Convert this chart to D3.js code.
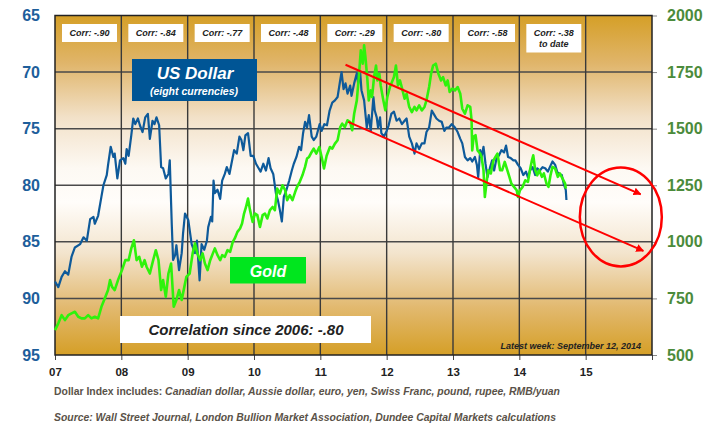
<!DOCTYPE html>
<html>
<head>
<meta charset="utf-8">
<script src="https://cdn.jsdelivr.net/npm/d3@7"></script>
<style>
  body { margin: 0; background: #fff; }
  svg { display: block; font-family: "Liberation Sans", Arial, sans-serif; }
</style>
</head>
<body>
<div id="chart"></div>
<script>
// US Dollar index (eight currencies) - [year, index], left axis inverted
const usdIndex = [
  [2007.00,88.5],[2007.05,89.0],[2007.10,88.1],[2007.15,87.6],[2007.20,87.9],[2007.25,86.3],[2007.30,85.5],[2007.38,85.2],[2007.43,84.6],[2007.48,84.9],[2007.53,83.0],[2007.58,82.8],[2007.60,83.4],[2007.65,82.7],[2007.70,81.0],[2007.73,80.0],[2007.78,79.1],[2007.80,78.2],[2007.84,76.6],[2007.88,77.5],[2007.90,77.2],[2007.94,79.4],[2007.98,77.8],
  [2008.03,77.6],[2008.06,78.1],[2008.08,76.8],[2008.11,77.4],[2008.15,75.6],[2008.18,74.1],[2008.21,74.6],[2008.25,74.1],[2008.28,74.7],[2008.32,75.3],[2008.36,74.0],[2008.40,73.7],[2008.43,75.9],[2008.47,74.3],[2008.50,74.6],[2008.53,74.0],[2008.57,74.7],[2008.60,78.4],[2008.63,78.5],[2008.67,79.4],[2008.71,79.0],[2008.73,77.8],[2008.76,83.4],[2008.78,86.6],[2008.81,86.2],[2008.83,85.3],[2008.87,87.5],[2008.91,86.0],[2008.93,84.3],[2008.96,82.5],
  [2009.01,83.1],[2009.06,85.2],[2009.11,86.0],[2009.14,84.9],[2009.18,88.4],[2009.21,85.2],[2009.25,85.7],[2009.29,84.9],[2009.31,83.7],[2009.35,82.8],[2009.37,83.2],[2009.39,79.6],[2009.41,80.7],[2009.45,80.4],[2009.49,81.2],[2009.52,79.6],[2009.56,79.0],[2009.59,78.4],[2009.63,79.0],[2009.66,78.1],[2009.70,76.9],[2009.74,77.2],[2009.78,75.7],[2009.81,76.0],[2009.84,76.9],[2009.87,75.6],[2009.91,75.4],[2009.95,77.4],[2009.99,77.4],
  [2010.03,78.1],[2010.07,78.5],[2010.10,78.8],[2010.14,78.1],[2010.18,78.7],[2010.22,77.6],[2010.25,78.5],[2010.29,79.0],[2010.33,80.7],[2010.36,81.3],[2010.39,82.2],[2010.42,83.2],[2010.45,81.0],[2010.49,80.4],[2010.53,79.6],[2010.57,78.7],[2010.60,78.1],[2010.64,77.5],[2010.68,76.6],[2010.71,76.9],[2010.74,75.4],[2010.77,74.4],[2010.80,74.9],[2010.83,73.8],[2010.87,75.7],[2010.90,76.0],[2010.94,75.7],[2010.99,74.6],
  [2011.02,75.2],[2011.06,74.6],[2011.10,74.7],[2011.14,73.4],[2011.18,72.7],[2011.22,72.5],[2011.26,72.2],[2011.30,70.7],[2011.32,70.0],[2011.35,71.5],[2011.38,71.0],[2011.41,71.9],[2011.45,71.2],[2011.47,72.1],[2011.51,71.0],[2011.55,70.1],[2011.57,71.0],[2011.60,70.0],[2011.62,71.6],[2011.66,72.5],[2011.70,74.9],[2011.73,73.8],[2011.76,75.2],[2011.80,72.2],[2011.82,73.4],[2011.85,74.0],[2011.87,74.9],[2011.90,74.0],[2011.92,75.4],[2011.96,75.7],
  [2012.00,75.2],[2012.03,74.7],[2012.07,73.7],[2012.11,73.5],[2012.15,74.3],[2012.19,74.1],[2012.23,74.6],[2012.27,74.3],[2012.30,74.1],[2012.34,75.7],[2012.38,76.3],[2012.42,77.2],[2012.45,76.3],[2012.49,76.8],[2012.53,76.3],[2012.57,76.3],[2012.60,75.3],[2012.64,74.9],[2012.68,73.4],[2012.72,73.8],[2012.75,74.1],[2012.79,74.3],[2012.83,74.4],[2012.87,75.2],[2012.90,74.9],[2012.94,74.9],[2012.98,74.6],
  [2013.03,74.9],[2013.07,75.3],[2013.11,75.9],[2013.14,76.3],[2013.18,77.5],[2013.22,77.8],[2013.26,77.6],[2013.29,77.9],[2013.33,77.5],[2013.36,78.2],[2013.38,79.3],[2013.41,76.9],[2013.43,77.5],[2013.46,76.6],[2013.49,78.1],[2013.52,79.3],[2013.56,78.4],[2013.59,77.8],[2013.62,78.7],[2013.66,77.5],[2013.69,77.4],[2013.73,76.9],[2013.77,77.1],[2013.80,76.5],[2013.83,77.5],[2013.87,77.6],[2013.91,77.8],[2013.94,77.8],[2013.98,78.2],
  [2014.02,78.5],[2014.06,79.1],[2014.10,78.8],[2014.13,79.3],[2014.16,78.7],[2014.20,78.4],[2014.24,79.1],[2014.27,78.5],[2014.31,78.7],[2014.35,78.4],[2014.39,78.5],[2014.43,78.8],[2014.46,78.4],[2014.50,77.9],[2014.54,78.2],[2014.57,78.8],[2014.60,79.0],[2014.64,79.1],[2014.67,79.9],[2014.70,80.4],[2014.71,81.3]
];

// Gold price, US$/oz - [year, price], right axis
const goldPrice = [
  [2007.00,610],[2007.05,640],[2007.10,676],[2007.15,654],[2007.20,676],[2007.25,684],[2007.30,691],[2007.35,669],[2007.40,662],[2007.45,662],[2007.50,676],[2007.55,662],[2007.60,669],[2007.65,662],[2007.70,713],[2007.75,750],[2007.80,787],[2007.83,831],[2007.86,801],[2007.90,787],[2007.95,831],
  [2008.01,875],[2008.06,919],[2008.11,919],[2008.15,971],[2008.19,1007],[2008.23,919],[2008.27,934],[2008.31,890],[2008.35,919],[2008.38,890],[2008.43,860],[2008.48,919],[2008.52,963],[2008.56,919],[2008.60,787],[2008.63,831],[2008.67,757],[2008.71,860],[2008.75,904],[2008.79,713],[2008.83,743],[2008.87,787],[2008.91,743],[2008.95,801],[2008.98,845],
  [2009.03,860],[2009.075,949],[2009.11,993],[2009.145,949],[2009.19,919],[2009.225,949],[2009.26,904],[2009.30,875],[2009.34,919],[2009.38,949],[2009.41,971],[2009.45,941],[2009.49,919],[2009.52,941],[2009.56,934],[2009.60,963],[2009.64,956],[2009.68,1000],[2009.71,1015],[2009.75,1044],[2009.79,1059],[2009.82,1081],[2009.85,1125],[2009.88,1154],[2009.91,1191],[2009.94,1140],[2009.98,1088],
  [2010.015,1125],[2010.05,1118],[2010.09,1066],[2010.13,1118],[2010.165,1125],[2010.20,1103],[2010.24,1140],[2010.28,1154],[2010.315,1140],[2010.35,1235],[2010.39,1213],[2010.43,1250],[2010.47,1228],[2010.50,1184],[2010.54,1206],[2010.58,1184],[2010.62,1220],[2010.65,1243],[2010.69,1265],[2010.73,1294],[2010.77,1331],[2010.80,1368],[2010.83,1375],[2010.87,1397],[2010.90,1412],[2010.94,1390],[2010.985,1419],
  [2011.02,1375],[2011.055,1324],[2011.095,1380],[2011.145,1419],[2011.18,1412],[2011.22,1434],[2011.26,1449],[2011.30,1507],[2011.33,1522],[2011.37,1507],[2011.41,1537],[2011.45,1529],[2011.48,1493],[2011.51,1566],[2011.55,1625],[2011.58,1728],[2011.61,1846],[2011.64,1787],[2011.66,1868],[2011.68,1816],[2011.71,1713],[2011.73,1625],[2011.76,1669],[2011.78,1640],[2011.81,1728],[2011.84,1779],[2011.86,1713],[2011.89,1743],[2011.91,1691],[2011.95,1625],[2011.98,1581],
  [2012.01,1640],[2012.05,1684],[2012.08,1706],[2012.11,1728],[2012.14,1779],[2012.17,1691],[2012.20,1713],[2012.24,1669],[2012.27,1632],[2012.30,1654],[2012.34,1596],[2012.38,1573],[2012.42,1596],[2012.45,1581],[2012.49,1603],[2012.53,1581],[2012.57,1596],[2012.60,1625],[2012.64,1684],[2012.67,1743],[2012.70,1779],[2012.74,1787],[2012.78,1743],[2012.82,1713],[2012.85,1728],[2012.89,1691],[2012.92,1713],[2012.95,1662],[2012.99,1677],
  [2013.03,1669],[2013.07,1684],[2013.11,1654],[2013.14,1588],[2013.18,1566],[2013.22,1603],[2013.26,1596],[2013.28,1537],[2013.29,1404],[2013.31,1463],[2013.34,1471],[2013.37,1404],[2013.41,1390],[2013.43,1375],[2013.46,1316],[2013.48,1198],[2013.51,1272],[2013.53,1316],[2013.57,1302],[2013.61,1360],[2013.64,1375],[2013.67,1390],[2013.71,1316],[2013.74,1316],[2013.78,1353],[2013.82,1316],[2013.85,1287],[2013.88,1257],[2013.92,1243],[2013.96,1228],[2013.98,1198],
  [2014.01,1228],[2014.05,1243],[2014.09,1272],[2014.13,1265],[2014.16,1316],[2014.19,1360],[2014.21,1382],[2014.24,1316],[2014.27,1294],[2014.30,1316],[2014.34,1287],[2014.37,1302],[2014.41,1257],[2014.44,1243],[2014.47,1294],[2014.50,1331],[2014.54,1324],[2014.58,1287],[2014.61,1302],[2014.65,1280],[2014.69,1257],[2014.70,1235]
];

// Axes
const yearTicks = [2007, 2008, 2009, 2010, 2011, 2012, 2013, 2014, 2015, 2016];
const yearLabels = ["07", "08", "09", "10", "11", "12", "13", "14", "15", ""];
const usdTicks = [65, 70, 75, 80, 85, 90, 95];
const goldTicks = [500, 750, 1000, 1250, 1500, 1750, 2000];

// Yearly correlation boxes
const corrYears = [2007, 2008, 2009, 2010, 2011, 2012, 2013, 2014];
const corrLabels = [["Corr: -.90"], ["Corr: -.84"], ["Corr: -.77"], ["Corr: -.48"], ["Corr: -.29"], ["Corr: -.80"], ["Corr: -.58"], ["Corr: -.38", "to date"]];

// Downtrend channel (year, USD index) and target zone
const trendUpper = [[2011.38, 69.35], [2015.83, 80.8]];
const trendLower = [[2011.42, 74.4], [2015.87, 85.8]];
const targetCenter = [2015.53, 82.8];

const width = 715;
const height = 425;
const margin = { top: 15.5, right: 63, bottom: 70, left: 55 };
const plotW = width - margin.left - margin.right;
const plotH = height - margin.top - margin.bottom;

const svg = d3.select("#chart")
    .append("svg")
    .attr("width", width)
    .attr("height", height);

const x = d3.scaleLinear().domain([2007, 2016]).range([margin.left, width - margin.right]);
const yUsd = d3.scaleLinear().domain([65, 95]).range([margin.top, height - margin.bottom]);
const yGold = d3.scaleLinear().domain([2000, 500]).range([margin.top, height - margin.bottom]);

// background gradient (gold - white - gold)
const defs = svg.append("defs");
const grad = defs.append("linearGradient")
    .attr("id", "bg")
    .attr("x1", 0).attr("y1", 0).attr("x2", 0).attr("y2", 1);
[[0, "#d59f27"], [0.14, "#e0b56a"], [0.3, "#f2e1c8"], [0.45, "#fdf9f3"], [0.55, "#fffdfa"], [0.7, "#f3e4cd"], [0.86, "#e2b96f"], [1, "#d59f27"]]
    .forEach(s => grad.append("stop").attr("offset", s[0]).attr("stop-color", s[1]));

defs.append("marker")
    .attr("id", "arrow")
    .attr("viewBox", "0 0 10 10")
    .attr("refX", 9).attr("refY", 5)
    .attr("markerWidth", 4).attr("markerHeight", 4)
    .attr("orient", "auto")
    .append("path")
    .attr("d", "M0,0 L10,5 L0,10 z")
    .attr("fill", "#f00");

svg.append("rect")
    .attr("x", margin.left).attr("y", margin.top)
    .attr("width", plotW).attr("height", plotH)
    .attr("fill", "url(#bg)");

// grid
svg.append("g").selectAll("line")
    .data(usdTicks.slice(1, -1))
    .enter().append("line")
    .attr("x1", margin.left).attr("x2", width - margin.right)
    .attr("y1", d => yUsd(d)).attr("y2", d => yUsd(d))
    .attr("stroke", "#4a4a4a").attr("stroke-width", 1.5);

svg.append("g").selectAll("line")
    .data(yearTicks.slice(1, -1))
    .enter().append("line")
    .attr("x1", d => x(d)).attr("x2", d => x(d))
    .attr("y1", margin.top).attr("y2", height - margin.bottom)
    .attr("stroke", "#3a3a3a").attr("stroke-width", 1.4);

// axes
const leftAxis = svg.append("g")
    .attr("transform", `translate(${margin.left},0)`)
    .call(d3.axisLeft(yUsd).tickValues(usdTicks).tickSize(0).tickPadding(15));
leftAxis.select(".domain").remove();
leftAxis.selectAll("text")
    .attr("fill", "#1d5e9b").attr("font-size", "16px").attr("font-weight", "bold")
    .attr("font-family", "Liberation Sans, Arial, sans-serif");

const rightAxis = svg.append("g")
    .attr("transform", `translate(${width - margin.right},0)`)
    .call(d3.axisRight(yGold).tickValues(goldTicks).tickFormat(d3.format("d")).tickSize(5).tickPadding(10));
rightAxis.select(".domain").remove();
rightAxis.selectAll("line").attr("stroke", "#888");
rightAxis.selectAll("text")
    .attr("fill", "#4b8b3b").attr("font-size", "16px").attr("font-weight", "bold")
    .attr("font-family", "Liberation Sans, Arial, sans-serif");

const bottomAxis = svg.append("g")
    .attr("transform", `translate(0,${height - margin.bottom})`)
    .call(d3.axisBottom(x).tickValues(yearTicks).tickFormat((d, i) => yearLabels[i]).tickSize(5).tickPadding(8));
bottomAxis.select(".domain").remove();
bottomAxis.selectAll("line").attr("stroke", "#444");
bottomAxis.selectAll("text")
    .attr("fill", "#222").attr("font-size", "11.5px").attr("font-weight", "bold")
    .attr("font-family", "Liberation Sans, Arial, sans-serif");

// plot frame
svg.append("rect")
    .attr("x", margin.left).attr("y", margin.top)
    .attr("width", plotW).attr("height", plotH)
    .attr("fill", "none").attr("stroke", "#222").attr("stroke-width", 1.5);

// correlation boxes
const corr = svg.append("g").selectAll("g")
    .data(corrYears)
    .enter().append("g");
corr.append("rect")
    .attr("x", d => x(d) + 7)
    .attr("y", margin.top + 8.5)
    .attr("width", 55)
    .attr("height", (d, i) => corrLabels[i].length > 1 ? 28.5 : 18)
    .attr("fill", "#fff");
corr.append("text")
    .attr("x", d => x(d) + 34.5)
    .attr("y", margin.top + 20.5)
    .attr("text-anchor", "middle")
    .attr("font-size", "9px").attr("font-weight", "bold").attr("font-style", "italic")
    .attr("fill", "#222")
    .selectAll("tspan")
    .data((d, i) => corrLabels[i])
    .enter().append("tspan")
    .attr("x", function () { return d3.select(this.parentNode).attr("x"); })
    .attr("dy", (d, i) => i === 0 ? 0 : 10.5)
    .text(d => d);

// series
const line = yScale => d3.line().x(d => x(d[0])).y(d => yScale(d[1]));

svg.append("path")
    .datum(usdIndex)
    .attr("d", line(yUsd))
    .attr("fill", "none").attr("stroke", "#0e5a9a").attr("stroke-width", 2.2)
    .attr("stroke-linejoin", "round");

svg.append("path")
    .datum(goldPrice)
    .attr("d", line(yGold))
    .attr("fill", "none").attr("stroke", "#2ef20c").attr("stroke-width", 2.6)
    .attr("stroke-linejoin", "round");

// downtrend channel and target
[trendUpper, trendLower].forEach(t => {
    svg.append("path")
        .datum(t)
        .attr("d", line(yUsd))
        .attr("fill", "none").attr("stroke", "#f00").attr("stroke-width", 2)
        .attr("marker-end", "url(#arrow)");
});

svg.append("ellipse")
    .attr("cx", x(targetCenter[0])).attr("cy", yUsd(targetCenter[1]))
    .attr("rx", 41).attr("ry", 49.5)
    .attr("fill", "none").attr("stroke", "#f00").attr("stroke-width", 2.5);

// legend boxes
svg.append("rect")
    .attr("x", 132).attr("y", 59).attr("width", 125).attr("height", 42)
    .attr("fill", "#005595");
svg.append("text")
    .attr("x", 195).attr("y", 79)
    .attr("text-anchor", "middle")
    .attr("font-size", "17px").attr("font-weight", "bold").attr("font-style", "italic")
    .attr("fill", "#fff")
    .text("US Dollar");
svg.append("text")
    .attr("x", 194).attr("y", 94.5)
    .attr("text-anchor", "middle")
    .attr("font-size", "10.5px").attr("font-weight", "bold").attr("font-style", "italic")
    .attr("fill", "#fff")
    .text("(eight currencies)");

svg.append("rect")
    .attr("x", 230).attr("y", 257).attr("width", 76).attr("height", 26.5)
    .attr("fill", "#00e61e");
svg.append("text")
    .attr("x", 268).attr("y", 276.5)
    .attr("text-anchor", "middle")
    .attr("font-size", "16px").attr("font-weight", "bold").attr("font-style", "italic")
    .attr("fill", "#fff")
    .text("Gold");

svg.append("rect")
    .attr("x", 120).attr("y", 316).attr("width", 251).attr("height", 27)
    .attr("fill", "#fff");
svg.append("text")
    .attr("x", 246).attr("y", 335)
    .attr("text-anchor", "middle")
    .attr("font-size", "15px").attr("font-weight", "bold").attr("font-style", "italic")
    .attr("fill", "#222")
    .text("Correlation since 2006: -.80");

svg.append("text")
    .attr("x", 641).attr("y", 348.5)
    .attr("text-anchor", "end")
    .attr("font-size", "9px").attr("font-weight", "bold").attr("font-style", "italic")
    .attr("fill", "#222")
    .text("Latest week: September 12, 2014");

// footer notes
const note1 = svg.append("text")
    .attr("x", 54).attr("y", 395)
    .attr("font-size", "10px").attr("font-weight", "bold")
    .attr("fill", "#5a5248")
    .attr("textLength", 506).attr("lengthAdjust", "spacingAndGlyphs");
note1.append("tspan").text("Dollar Index includes: ");
note1.append("tspan").attr("font-style", "italic")
    .text("Canadian dollar, Aussie dollar, euro, yen, Swiss Franc, pound, rupee, RMB/yuan");

svg.append("text")
    .attr("x", 54).attr("y", 420.5)
    .attr("font-size", "10px").attr("font-weight", "bold").attr("font-style", "italic")
    .attr("fill", "#5a5248")
    .attr("textLength", 502).attr("lengthAdjust", "spacingAndGlyphs")
    .text("Source: Wall Street Journal, London Bullion Market Association, Dundee Capital Markets calculations");
</script>
</body>
</html>
